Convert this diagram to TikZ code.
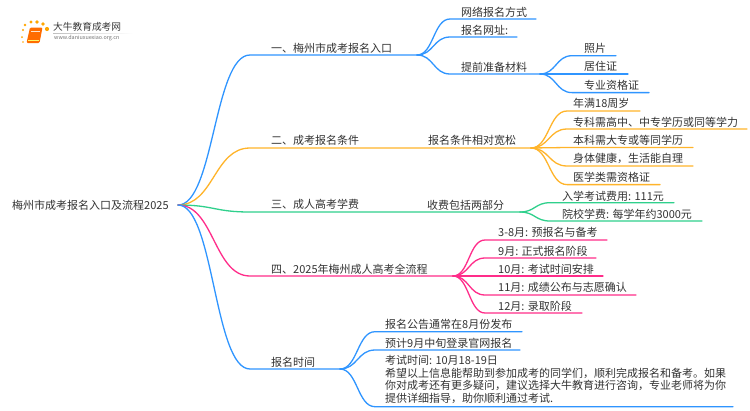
\documentclass[tikz,border=0pt]{standalone}
\usepackage{fontspec}
\setmainfont{Noto Sans CJK SC}
\usetikzlibrary{calc}
\definecolor{cblue}{HTML}{2F95FF}
\definecolor{corange}{HTML}{FFB42A}
\definecolor{cgreen}{HTML}{2FD08C}
\definecolor{cpink}{HTML}{FF2D8A}
\definecolor{ctext}{HTML}{333333}
\tikzset{
  lbl/.style={anchor=west,inner sep=0pt,text=ctext,font=\fontsize{11}{12.5}\selectfont},
  wire/.style={line width=1.3pt,line cap=round,line join=round},
}
% name, parent, colour, curve end x, line end x, line y, text x, text y, text
\newcommand{\twig}[9]{%
  \coordinate (#1-a) at (#4,#6);
  \coordinate (#1-b) at (#5,#6);
  \node[lbl] (#1) at (#7,#8) {#9};
  \draw[wire,#3] let \p1=(#2),\p2=(#1-a),\n1={0.5*(\x1+\x2)} in
    (#2) .. controls (\n1,\y1) and (\n1,\y2) .. (#1-a) -- (#1-b);
}
\begin{document}
\begin{tikzpicture}[x=1pt,y=-1pt]
\useasboundingbox[fill=white] (0,0) rectangle (750,410);
% logo
\foreach \px/\py/\r in {22/37/1,23/30/1.1,25/25/1.3,31/22/1.7,37/22/1.8,43/24/1.9,47/29/2.1,23/42/0.8}
  \fill[orange!70!yellow] (\px,\py) circle (\r);
\fill[orange!85!red,rounded corners=1.2pt] (30,27.5) -- (42.5,27.5) -- (39.5,43) -- (26.5,43) -- cycle;
\draw[white!80!orange,line width=.5pt] (31,31) -- (39.5,31);
\draw[yellow!60!white,line width=.6pt] (28,40.5) -- (39,40.5);
\node[inner sep=0pt,anchor=west,text=black!78,font=\fontsize{9.7}{10}\selectfont] (logotitle) at (53,27) {大牛教育成考网};
\shade[left color=black!25,right color=white,draw=none] (53,33) rectangle (133,33.7);
\node[inner sep=0pt,anchor=west,text=black!55,font=\fontsize{5.4}{6}\selectfont] (logourl) at (54,38.5) {www.daniuxuexiao.org.cn};
% root
\node[lbl] (root) at (12,205) {梅州市成考报名入口及流程2025};
\coordinate (hub) at (178,205);
% branch 1
\twig{bA}{hub}{cblue}{250}{417}{55}{271}{48}{一、梅州市成考报名入口}
\twig{bAa}{bA-b}{cblue}{450}{536}{19}{461}{12}{网络报名方式}
\twig{bAb}{bA-b}{cblue}{450}{517}{37}{461}{30}{报名网址:}
\twig{bAc}{bA-b}{cblue}{450}{540}{74}{461}{67}{提前准备材料}
\twig{bAca}{bAc-b}{cblue}{572}{616}{55.7}{584}{48}{照片}
\twig{bAcb}{bAc-b}{cblue}{572}{628}{74}{584}{66}{居住证}
\twig{bAcc}{bAc-b}{cblue}{572}{649}{92.6}{584}{85}{专业资格证}
% branch 2
\twig{bB}{hub}{corange}{250}{531}{148}{271}{140}{二、成考报名条件}
\node[lbl] (bBtxt) at (428,140) {报名条件相对宽松};
\twig{bBa}{bB-b}{corange}{567}{640}{111}{573}{103}{年满18周岁}
\twig{bBb}{bB-b}{corange}{567}{747}{129}{573}{122}{专科需高中、中专学历或同等学力}
\twig{bBc}{bB-b}{corange}{567}{693}{147.5}{573}{140}{本科需大专或等同学历}
\twig{bBd}{bB-b}{corange}{567}{693}{166}{573}{158}{身体健康，生活能自理}
\twig{bBe}{bB-b}{corange}{567}{660}{184.6}{573}{177}{医学类需资格证}
% branch 3
\twig{bC}{hub}{cgreen}{250}{520}{212}{271}{204}{三、成人高考学费}
\node[lbl] (bCtxt) at (427,205) {收费包括两部分};
\twig{bCa}{bC-b}{cgreen}{550}{674}{202.7}{562}{196}{入学考试费用: 111元}
\twig{bCb}{bC-b}{cgreen}{550}{702}{221}{562}{214}{院校学费: 每学年约3000元}
% branch 4
\twig{bD}{hub}{cpink}{250}{453}{276}{271}{269}{四、2025年梅州成人高考全流程}
\twig{bDa}{bD-b}{cpink}{485}{607}{240}{498}{232}{3-8月: 预报名与备考}
\twig{bDb}{bD-b}{cpink}{485}{596}{258}{498}{251}{9月: 正式报名阶段}
\twig{bDc}{bD-b}{cpink}{485}{603}{276}{498}{269}{10月: 考试时间安排}
\twig{bDd}{bD-b}{cpink}{485}{636}{295}{498}{287}{11月: 成绩公布与志愿确认}
\twig{bDe}{bD-b}{cpink}{485}{582}{313}{498}{306}{12月: 录取阶段}
% branch 5
\twig{bE}{hub}{cblue}{250}{340}{369}{271}{362}{报名时间}
\twig{bEa}{bE-b}{cblue}{375}{522}{331.7}{385}{324}{报名公告通常在8月份发布}
\twig{bEb}{bE-b}{cblue}{375}{520}{350}{385}{343}{预计9月中旬登录官网报名}
\twig{bEc}{bE-b}{cblue}{375}{733}{406.7}{385}{379.5}{\begin{minipage}[c]{345pt}\raggedright\lineskiplimit=-10pt 考试时间: 10月18-19日\\希望以上信息能帮助到参加成考的同学们，顺利完成报名和备考。如果\\你对成考还有更多疑问，建议选择大牛教育进行咨询，专业老师将为你\\提供详细指导，助你顺利通过考试.\end{minipage}}
\end{tikzpicture}
\end{document}
